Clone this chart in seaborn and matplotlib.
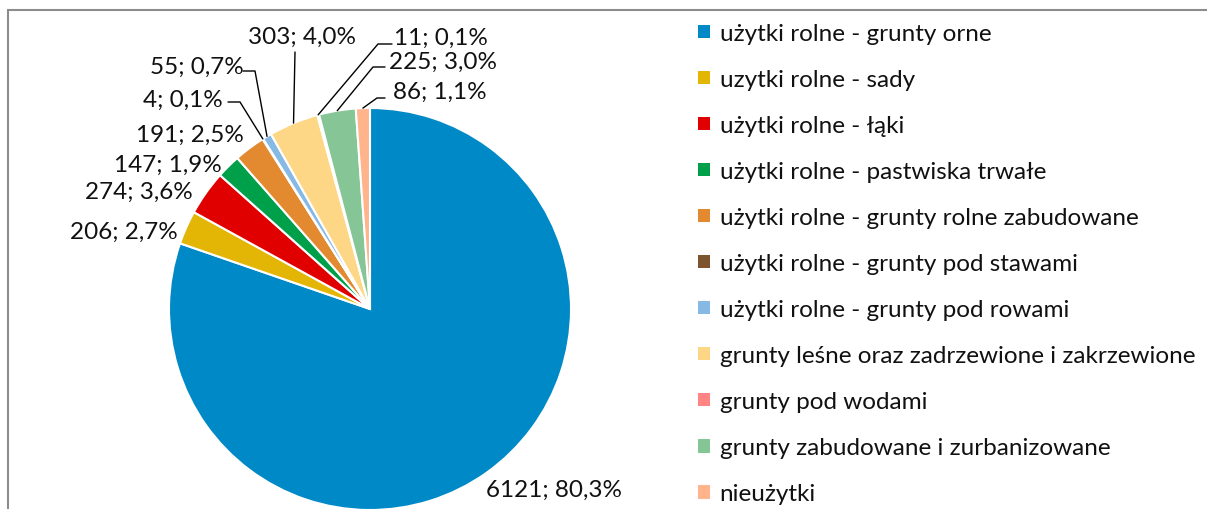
import numpy as np
import seaborn as sns
import matplotlib.pyplot as plt
from matplotlib.patches import Patch, Rectangle

# data: land use (ha)
categories = ['użytki rolne - grunty orne', 'uzytki rolne - sady', 'użytki rolne - łąki',
              'użytki rolne - pastwiska trwałe', 'użytki rolne - grunty rolne zabudowane',
              'użytki rolne - grunty pod stawami', 'użytki rolne - grunty pod rowami',
              'grunty leśne oraz zadrzewione i zakrzewione', 'grunty pod wodami',
              'grunty zabudowane i zurbanizowane', 'nieużytki']
values = [6121, 206, 274, 147, 191, 4, 55, 303, 11, 225, 86]
colors = ['#0089C7', '#E3B505', '#E10000', '#00A04B', '#E3892F', '#7E5430',
          '#87B9E5', '#FED786', '#FF8585', '#86C596', '#FFB48B']

# label centres in pixels (x, y from top) and leader polylines (label side points)
label_pos = [(554, 490), (124, 232), (139, 192), (168, 165), (190, 135), (183, 100),
             (197, 67), (302, 37), (441, 38), (443, 62), (440, 92)]
leaders = {5: [(228, 103), (240, 103)],
           6: [(243, 72), (255, 72)],
           7: [(295, 53)],
           8: [(392, 45), (378, 45)],
           9: [(385, 68), (373, 68)],
           10: [(385, 99), (377, 99)]}

sns.set_theme(style='white')
plt.rcParams['font.family'] = ['Lato', 'DejaVu Sans']
FS = 17.5
W, H = 1207, 510

fig = plt.figure(figsize=(W / 100, H / 100), dpi=100)
ax = fig.add_axes([0, 0, 1, 1])
pal = sns.color_palette(colors)
wedges, _ = ax.pie(values, colors=pal, startangle=90, counterclock=False,
                   center=(370, H - 310), radius=201,
                   wedgeprops=dict(edgecolor='white', linewidth=1.5))
ax.set_xlim(0, W)
ax.set_ylim(0, H)
ax.set_aspect('equal')
ax.axis('off')

total = sum(values)
for i, (v, w) in enumerate(zip(values, wedges)):
    txt = f'{v}; {100 * v / total:.1f}%'.replace('.', ',')
    x, y = label_pos[i]
    ax.text(x, H - y, txt, ha='center', va='center', fontsize=FS, color='#111111')
    if i in leaders:
        mid = np.deg2rad((w.theta1 + w.theta2) / 2)
        ex = w.center[0] + w.r * np.cos(mid)
        ey = w.center[1] + w.r * np.sin(mid)
        pts = [(px, H - py) for px, py in leaders[i]] + [(ex, ey)]
        ax.plot([p[0] for p in pts], [p[1] for p in pts], color='black', lw=1.0)

# chart frame (only top and left edges are visible in the crop)
ax.add_patch(Rectangle((7.5, -20), 1400, H - 10.5 + 20, fill=False,
                       edgecolor='#8c8c8c', lw=1.5))

handles = [Patch(facecolor=c, edgecolor='none') for c in colors]
ax.legend(handles, categories, loc='upper left', bbox_to_anchor=(698 / W, 1 - 24 / H),
          frameon=False, fontsize=FS, handlelength=0.49, handleheight=0.49,
          handletextpad=0.4, labelspacing=1.03, borderpad=0, borderaxespad=0,
          labelcolor='#111111')

plt.savefig('out.png', dpi=100)
